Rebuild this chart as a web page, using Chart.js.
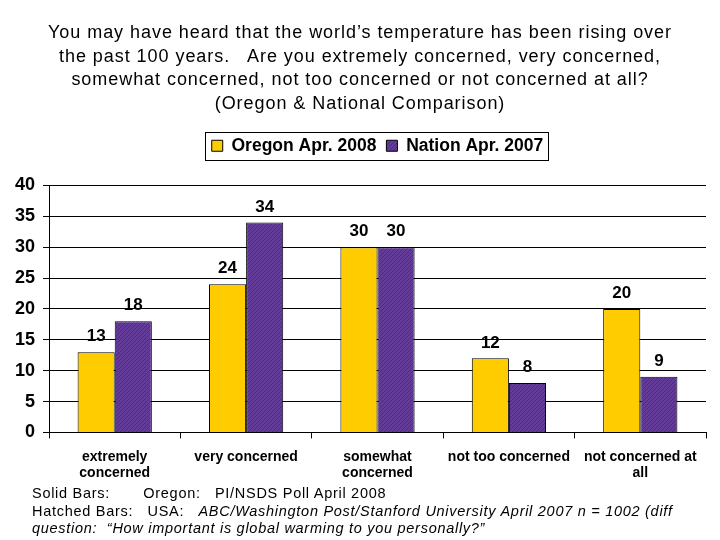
<!DOCTYPE html>
<html>
<head>
<meta charset="utf-8">
<script src="https://cdn.jsdelivr.net/npm/chart.js@4/dist/chart.umd.min.js"></script>
<style>
  body { margin: 0; background: #fff; }
  #wrap { position: relative; width: 720px; height: 540px; }
  #title {
    position: absolute; left: 0; top: 21px; width: 720px; text-align: center;
    font-family: "Liberation Sans", Arial, sans-serif; font-size: 18px; letter-spacing: 0.95px;
    line-height: 23.7px; color: #000;
  }
  #note {
    position: absolute; left: 32px; top: 485px; width: 686px;
    font-family: "Liberation Sans", Arial, sans-serif; font-size: 14.5px; letter-spacing: 0.72px;
    line-height: 17.5px; color: #000; white-space: nowrap;
  }
  #note i { font-style: italic; }
</style>
</head>
<body>
<div id="wrap">
  <canvas id="chart" width="720" height="540"></canvas>
  <div id="title">
    You may have heard that the world’s temperature has been rising over<br>
    the past 100 years.&nbsp;&nbsp; Are you extremely concerned, very concerned,<br>
    somewhat concerned, not too concerned or not concerned at all?<br>
    (Oregon &amp; National Comparison)
  </div>
  <div id="note">
    Solid Bars:&nbsp;&nbsp;&nbsp;&nbsp;&nbsp;&nbsp;&nbsp;Oregon:&nbsp;&nbsp; PI/NSDS Poll April 2008<br>
    Hatched Bars:&nbsp;&nbsp; USA:&nbsp;&nbsp; <i>ABC/Washington Post/Stanford University April 2007 n = 1002 (diff<br>
    question:&nbsp; “How important is global warming to you personally?”</i>
  </div>
</div>
<script>
// Catégories et séries
const categories = [['extremely', 'concerned'], 'very concerned', ['somewhat', 'concerned'], 'not too concerned', ['not concerned at', 'all']];
const oregon2008 = [13, 24, 30, 12, 20];
const nation2007 = [18, 34, 30, 8, 9];
const yTicks = [0, 5, 10, 15, 20, 25, 30, 35, 40];

const FONT = '"Liberation Sans", Arial, sans-serif';

// Motif hachuré pour les barres nationales
function hatchPattern() {
    const c = document.createElement('canvas');
    c.width = 4; c.height = 4;
    const g = c.getContext('2d');
    g.fillStyle = '#633c9a';
    g.fillRect(0, 0, 4, 4);
    g.strokeStyle = '#4b2a82';
    g.lineWidth = 1;
    g.beginPath();
    g.moveTo(0, 4); g.lineTo(4, 0);
    g.moveTo(-1, 1); g.lineTo(1, -1);
    g.moveTo(3, 5); g.lineTo(5, 3);
    g.stroke();
    return g.createPattern(c, 'repeat');
}

// Valeurs au-dessus des barres
const valueLabels = {
    id: 'valueLabels',
    afterDatasetsDraw(chart) {
        const ctx = chart.ctx;
        ctx.save();
        ctx.font = 'bold 17px ' + FONT;
        ctx.fillStyle = '#000';
        ctx.textAlign = 'center';
        ctx.textBaseline = 'bottom';
        chart.data.datasets.forEach((ds, i) => {
            chart.getDatasetMeta(i).data.forEach((el, j) => {
                ctx.fillText(ds.data[j], el.x, el.y - 7);
            });
        });
        ctx.restore();
    }
};

// Décalage de la légende (plus haut, un peu à droite) et cadre autour
const LEGEND_DX = 21, LEGEND_DY = -21;
const legendBox = {
    id: 'legendBox',
    afterLayout(chart) {
        const lg = chart.legend;
        lg.left += LEGEND_DX; lg.right += LEGEND_DX;
        lg.top += LEGEND_DY; lg.bottom += LEGEND_DY;
    },
    afterDraw(chart) {
        const boxes = chart.legend.legendHitBoxes;
        if (!boxes || !boxes.length) return;
        const left = Math.min(...boxes.map(b => b.left)) - 7;
        const right = Math.max(...boxes.map(b => b.left + b.width)) + 4;
        const top = Math.min(...boxes.map(b => b.top)) - 5;
        const bottom = Math.max(...boxes.map(b => b.top + b.height)) + 5;
        const ctx = chart.ctx;
        ctx.save();
        ctx.strokeStyle = '#000';
        ctx.lineWidth = 1;
        ctx.strokeRect(Math.round(left) + 0.5, Math.round(top) + 0.5, Math.round(right - left), Math.round(bottom - top));
        ctx.restore();
    }
};

const ctx = document.getElementById('chart').getContext('2d');
new Chart(ctx, {
    type: 'bar',
    data: {
        labels: categories,
        datasets: [{
            label: 'Oregon Apr. 2008',
            data: oregon2008,
            backgroundColor: '#ffcc00',
            borderColor: '#000',
            borderWidth: 1,
            categoryPercentage: 0.565,
            barPercentage: 1
        }, {
            label: 'Nation Apr. 2007',
            data: nation2007,
            backgroundColor: hatchPattern(),
            borderColor: '#000',
            borderWidth: 1,
            categoryPercentage: 0.565,
            barPercentage: 1
        }]
    },
    options: {
        responsive: false,
        animation: false,
        layout: { padding: { left: 7, right: 14, top: 148, bottom: 48 } },
        plugins: {
            legend: {
                position: 'top',
                labels: {
                    color: '#000',
                    font: { family: FONT, size: 17.5, weight: 'bold' },
                    boxWidth: 11,
                    boxHeight: 11,
                    padding: 10
                }
            },
            tooltip: { enabled: false }
        },
        scales: {
            x: {
                grid: { offset: true, drawOnChartArea: false, color: '#000', tickLength: 6 },
                border: { color: '#000' },
                ticks: { color: '#000', font: { family: FONT, size: 14, weight: 'bold' }, maxRotation: 0, autoSkip: false, padding: 10 }
            },
            y: {
                min: 0,
                max: 40,
                afterBuildTicks: axis => { axis.ticks = yTicks.map(v => ({ value: v })); },
                grid: { color: '#000', tickLength: 6 },
                border: { color: '#000' },
                ticks: { color: '#000', font: { family: FONT, size: 18, weight: 'bold' }, padding: 8 }
            }
        }
    },
    plugins: [valueLabels, legendBox]
});
</script>
</body>
</html>
